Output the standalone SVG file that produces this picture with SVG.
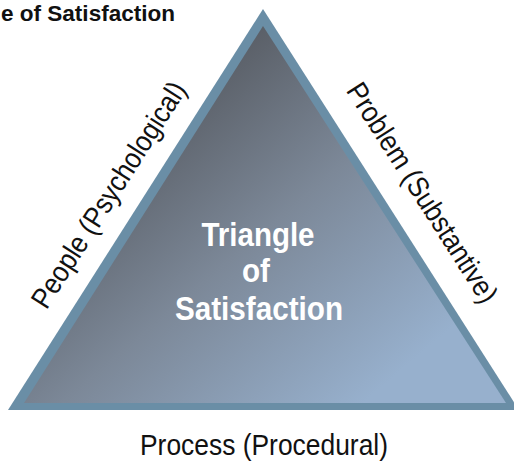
<svg xmlns="http://www.w3.org/2000/svg" width="514" height="462" viewBox="0 0 514 462">
  <defs>
    <linearGradient id="fillGrad" gradientUnits="userSpaceOnUse" x1="160" y1="110" x2="390" y2="380">
      <stop offset="0" stop-color="#5a5f67"/>
      <stop offset="0.45" stop-color="#7c8898"/>
      <stop offset="1" stop-color="#97b0cd"/>
    </linearGradient>
    <style>
      .side { font-family: "Liberation Sans", Arial, sans-serif; font-size: 29px; fill: #111; }
      .title { font-family: "Liberation Sans", Arial, sans-serif; font-size: 22px; font-weight: bold; fill: #111; }
      .center { font-family: "Liberation Sans", Arial, sans-serif; font-size: 34px; font-weight: bold; fill: #ffffff; text-anchor: middle; }
    </style>
  </defs>
  <rect width="514" height="462" fill="#ffffff"/>
  <text class="title" x="1" y="21" textLength="174" lengthAdjust="spacingAndGlyphs">e of Satisfaction</text>
  <g id="triangle">
    <polygon points="263,9 519,410 8,410" fill="#6a8ea6"/>
    <polygon points="263,26 506,403 24,403" fill="url(#fillGrad)"/>
    <text class="center" x="258" y="246" textLength="113" lengthAdjust="spacingAndGlyphs">Triangle</text>
    <text class="center" x="256" y="282" textLength="28" lengthAdjust="spacingAndGlyphs">of</text>
    <text class="center" x="259" y="320" textLength="168" lengthAdjust="spacingAndGlyphs">Satisfaction</text>
  </g>
  <g id="people">
    <text class="side" text-anchor="middle" transform="translate(117,200) rotate(-57.5)" textLength="262" lengthAdjust="spacingAndGlyphs">People (Psychological)</text>
  </g>
  <g id="problem">
    <text class="side" text-anchor="middle" transform="translate(414,198) rotate(57.5)" textLength="255" lengthAdjust="spacingAndGlyphs">Problem (Substantive)</text>
  </g>
  <g id="process">
    <text class="side" text-anchor="middle" x="264" y="455" textLength="248" lengthAdjust="spacingAndGlyphs">Process (Procedural)</text>
  </g>
  <g id="connectors"/>
</svg>
